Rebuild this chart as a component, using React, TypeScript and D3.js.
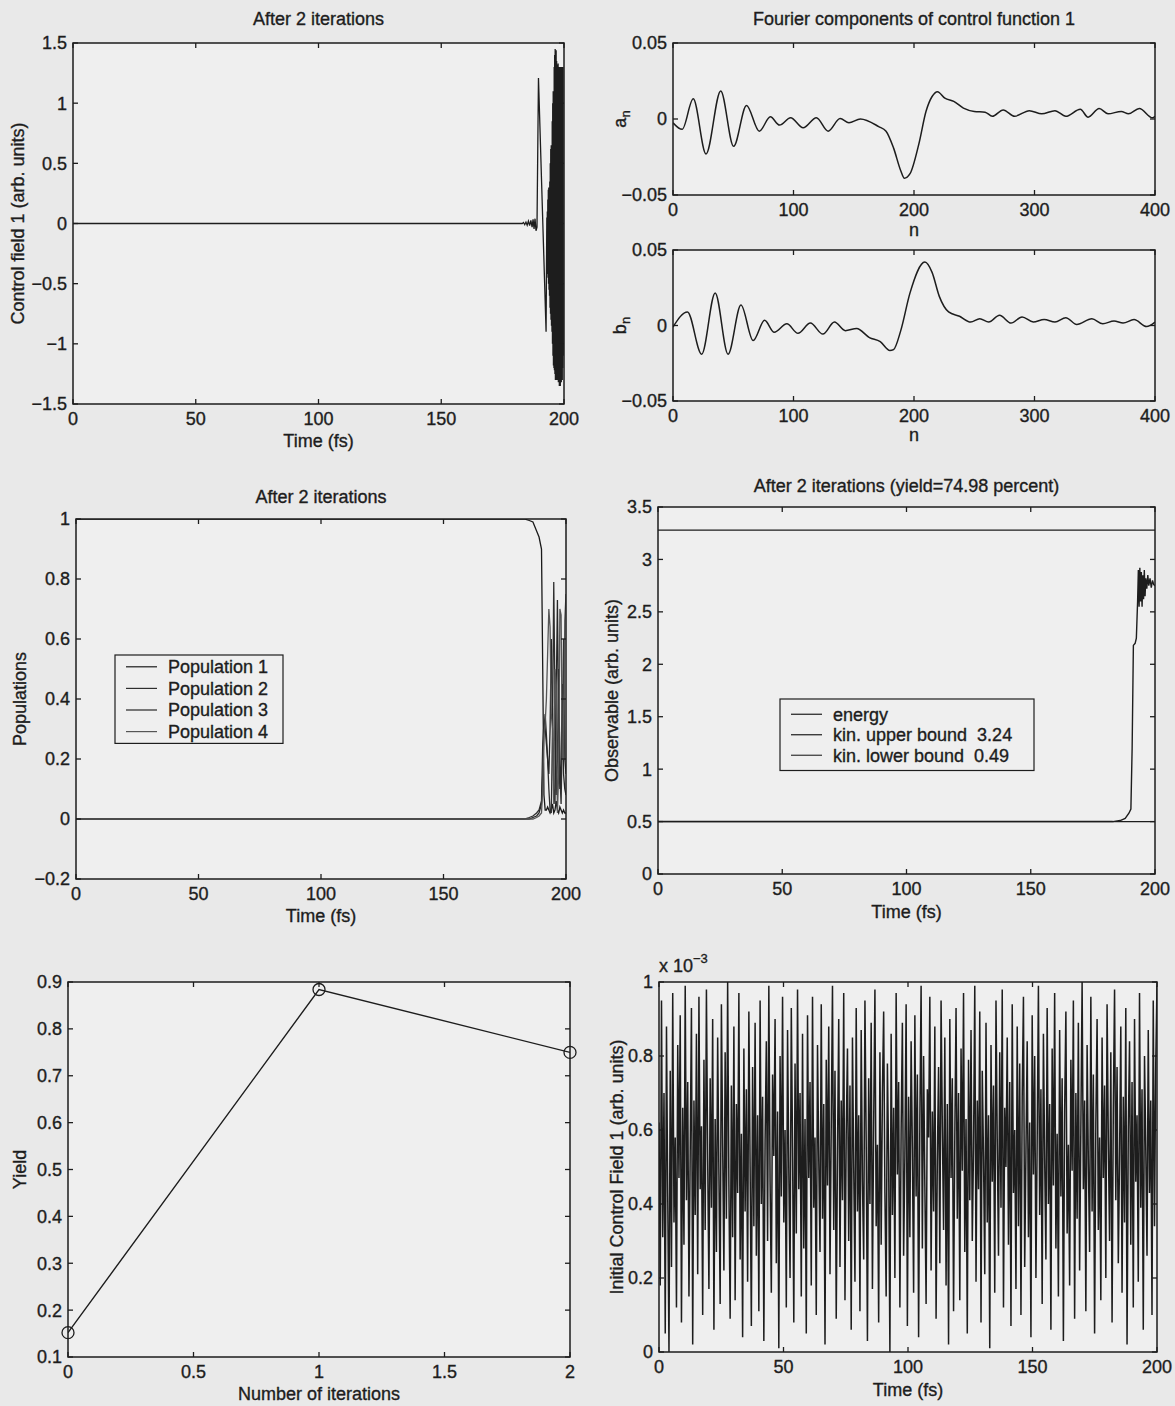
import React from 'react'
import * as d3 from 'd3'

const FONT = '"Liberation Sans", Arial, Helvetica, sans-serif'
const INK = '#1d1d1d'
const PAPER = '#e9e9e9'
const PLOT_BG = '#efefef'

// ---------- data ----------

const timeTicks = [0, 50, 100, 150, 200]

// control field 1 after 2 iterations: flat, small wiggle, spike, then a burst
const field1Time = [0, 183, 183.5, 184, 184.5, 185, 185.5, 186, 186.5, 187, 187.4, 187.8, 188.2, 188.6, 189.0, 189.6, 192.7]
const field1Value = [0, 0, 0.008, -0.01, 0.012, -0.015, 0.02, -0.018, 0.025, -0.03, 0.035, -0.045, 0.04, -0.06, -0.03, 1.21, -0.9]
const burstStart = 193.0
const burstStep = 0.1
const field1Burst = [
  0.05, -0.4, 0.1, -0.42, 0.2, -0.45, 0.28, -0.5, 0.3, -0.55,
  0.25, -0.6, 0.35, -0.7, 0.5, -0.75, 0.62, -0.8, 0.65, -0.85,
  0.6, -0.9, 0.85, -1.0, 1.0, -1.1, 1.1, -1.18, 1.05, -1.2,
  1.3, -1.22, 1.4, -1.25, 1.45, -1.3, 1.38, -1.28, 1.44, -1.3,
  1.35, -1.25, 1.32, -1.3, 1.3, -1.28, 1.33, -1.32, 1.28, -1.3,
  1.3, -1.35, 1.27, -1.33, 1.3, -1.35, 1.25, -1.3, 1.3, -1.32,
  1.28, -1.25, 1.3, -1.3, 1.25, -1.2, 1.3, -1.1,
]

// Fourier components
const nTicks = [0, 100, 200, 300, 400]
const aN = [0, 7.6, 16.8, 27.4, 39.6, 50.3, 61, 71.6, 80.8, 88.4, 97.6, 108, 119, 128.7, 138.7, 146, 155.5, 170.7, 176.8, 183, 189, 192, 196.7, 204, 210, 215, 219.5, 225.6, 233, 241, 250, 259, 265, 274, 283.5, 295.7, 306, 317, 326, 338, 344.5, 353.7, 361, 372, 378, 387, 398, 400]
const aValue = [-0.0025, -0.0068, 0.0133, -0.023, 0.0185, -0.018, 0.0089, -0.008, 0.0014, -0.004, 0.0008, -0.0058, 0.0008, -0.008, 0.0003, -0.0025, 0, -0.005, -0.008, -0.019, -0.034, -0.039, -0.036, -0.0165, 0.0051, 0.0148, 0.018, 0.0137, 0.0116, 0.0072, 0.005, 0.0045, 0.0018, 0.006, 0.0018, 0.0055, 0.0034, 0.0055, 0.0018, 0.0064, 0.0012, 0.0069, 0.0034, 0.005, 0.0034, 0.0069, 0.0008, 0.0018]
const bN = [0, 12, 23.8, 35, 45.7, 56.4, 66.5, 76, 84, 94.5, 103.7, 114, 124.4, 134, 143, 152.4, 163, 172, 180, 183, 189, 196.7, 209, 215, 221, 228.7, 237.8, 247, 254.6, 262, 271, 280.5, 289.7, 299, 308, 317, 326, 335, 347.6, 356.7, 366, 373.5, 382.6, 393, 400]
const bValue = [-0.001, 0.009, -0.019, 0.0216, -0.019, 0.0136, -0.01, 0.0034, -0.0045, 0.0011, -0.0052, 0.0016, -0.0057, 0.0023, -0.0034, -0.002, -0.008, -0.0107, -0.0166, -0.016, -0.0034, 0.0216, 0.042, 0.0352, 0.0193, 0.009, 0.0061, 0.0023, 0.0045, 0.0023, 0.0068, 0.0016, 0.0057, 0.0023, 0.0039, 0.0023, 0.0052, 0.0007, 0.0045, 0.0011, 0.003, 0.0016, 0.0039, -0.0007, 0.0023]
const fourierTicks = [-0.05, 0, 0.05]

// populations
const popTime = [0, 183, 185, 186.5, 188, 189, 190, 190.5, 191, 191.5, 192, 192.5, 193, 193.5, 194, 194.5, 195, 195.5, 196, 196.5, 197, 197.5, 198, 198.5, 199, 199.5, 200]
const pop1 = [1, 1, 0.995, 0.99, 0.96, 0.94, 0.9, 0.5, 0.08, 0.03, 0.03, 0.04, 0.03, 0.02, 0.03, 0.05, 0.02, 0.03, 0.06, 0.03, 0.02, 0.04, 0.03, 0.02, 0.03, 0.02, 0.02]
const pop2 = [0, 0, 0.005, 0.01, 0.02, 0.03, 0.06, 0.25, 0.32, 0.3, 0.25, 0.2, 0.1, 0.03, 0.02, 0.3, 0.79, 0.4, 0.08, 0.2, 0.5, 0.15, 0.05, 0.3, 0.6, 0.2, 0.15]
const pop3 = [0, 0, 0, 0.005, 0.01, 0.02, 0.05, 0.15, 0.3, 0.35, 0.28, 0.2, 0.15, 0.3, 0.6, 0.35, 0.1, 0.05, 0.4, 0.73, 0.3, 0.1, 0.2, 0.45, 0.15, 0.1, 0.08]
const pop4 = [0, 0, 0, 0, 0.005, 0.01, 0.02, 0.1, 0.28, 0.32, 0.4, 0.55, 0.7, 0.64, 0.35, 0.3, 0.05, 0.5, 0.45, 0.02, 0.15, 0.7, 0.68, 0.2, 0.2, 0.66, 0.75]
const popNames = ['Population 1', 'Population 2', 'Population 3', 'Population 4']
const popColors = ['#1a1a1a', '#2e2e2e', '#262626', '#555555']
const popTicks = [-0.2, 0, 0.2, 0.4, 0.6, 0.8, 1]

// observable
const energyTime = [0, 183, 186, 188, 189.5, 190.3, 190.8, 191.3, 192.0, 192.5, 193.0, 193.3, 193.6, 193.9, 194.2, 194.5, 194.8, 195.1, 195.4, 195.7, 196.0, 196.3, 196.7, 197.1, 197.5, 198.0, 198.5, 199.0, 199.5, 200]
const energyValue = [0.5, 0.5, 0.51, 0.53, 0.58, 0.62, 1.2, 2.18, 2.2, 2.25, 2.6, 2.9, 2.55, 2.92, 2.6, 2.88, 2.55, 2.85, 2.62, 2.9, 2.65, 2.82, 2.72, 2.85, 2.75, 2.82, 2.73, 2.8, 2.76, 2.75]
const upperBound = 3.28
const lowerBound = 0.5
const obsLegend = ['energy', 'kin. upper bound  3.24', 'kin. lower bound  0.49']
const obsTicks = [0, 0.5, 1, 1.5, 2, 2.5, 3, 3.5]

// yield vs iterations
const iterations = [0, 1, 2]
const yieldValues = [0.152, 0.884, 0.7498]
const iterTicks = [0, 0.5, 1, 1.5, 2]
const yieldTicks = [0.1, 0.2, 0.3, 0.4, 0.5, 0.6, 0.7, 0.8, 0.9]

// initial control field (units of 1e-3)
const initialField = [
  0.62, 0.18, 0.95, 0.31, 0.70, 0.05, 0.88, 0.42, 0.00, 0.76, 0.23, 0.97, 0.35, 0.58, 0.12, 0.83, 0.47, 0.91, 0.08, 0.66,
  0.29, 0.99, 0.41, 0.73, 0.15, 0.54, 0.93, 0.02, 0.68, 0.37, 0.86, 0.21, 0.96, 0.44, 0.61, 0.10, 0.79, 0.33, 0.98, 0.52,
  0.17, 0.74, 0.39, 0.90, 0.06, 0.63, 0.27, 0.85, 0.48, 0.13, 0.94, 0.56, 0.22, 0.81, 0.36, 1.00, 0.45, 0.09, 0.72, 0.31,
  0.88, 0.14, 0.67, 0.43, 0.97, 0.25, 0.59, 0.04, 0.82, 0.38, 0.71, 0.19, 0.92, 0.50, 0.07, 0.77, 0.34, 0.89, 0.26, 0.64,
  0.11, 0.95, 0.40, 0.69, 0.03, 0.57, 0.84, 0.30, 0.99, 0.46, 0.16, 0.75, 0.53, 0.90, 0.24, 0.65, 0.01, 0.80, 0.42, 0.96,
  0.35, 0.60, 0.12, 0.87, 0.49, 0.20, 0.93, 0.55, 0.08, 0.78, 0.32, 0.98, 0.44, 0.70, 0.15, 0.86, 0.28, 0.63, 0.05, 0.91,
  0.47, 0.73, 0.18, 0.96, 0.39, 0.58, 0.10, 0.83, 0.52, 0.27, 0.94, 0.36, 0.67, 0.02, 0.79, 0.45, 0.88, 0.21, 0.61, 0.99,
  0.33, 0.76, 0.09, 0.54, 0.90, 0.23, 0.68, 0.41, 0.97, 0.14, 0.59, 0.82, 0.30, 0.72, 0.06, 0.85, 0.50, 0.19, 0.93, 0.38,
  0.64, 0.11, 0.87, 0.46, 0.25, 0.95, 0.57, 0.03, 0.74, 0.40, 0.89, 0.17, 0.62, 0.98, 0.34, 0.56, 0.08, 0.81, 0.29, 0.70,
  0.92, 0.43, 0.15, 0.78, 0.51, 0.00, 0.86, 0.37, 0.66, 0.20, 0.97, 0.48, 0.73, 0.12, 0.60, 0.89, 0.26, 0.53, 0.94, 0.07,
  0.69, 0.31, 0.84, 0.55, 0.16, 0.91, 0.42, 0.75, 0.04, 0.63, 0.99, 0.28, 0.80, 0.45, 0.13, 0.71, 0.58, 0.96, 0.22, 0.65,
  0.38, 0.88, 0.09, 0.52, 0.77, 0.24, 0.95, 0.61, 0.33, 0.85, 0.18, 0.67, 0.02, 0.90, 0.47, 0.74, 0.11, 0.58, 0.93, 0.36,
  0.70, 0.14, 0.82, 0.49, 0.97, 0.27, 0.63, 0.05, 0.79, 0.41, 0.87, 0.30, 0.55, 0.99, 0.19, 0.68, 0.44, 0.92, 0.08, 0.76,
  0.53, 0.21, 0.89, 0.35, 0.64, 0.01, 0.83, 0.46, 0.72, 0.16, 0.95, 0.57, 0.26, 0.81, 0.39, 0.98, 0.12, 0.66, 0.50, 0.85,
  0.29, 0.73, 0.07, 0.94, 0.43, 0.60, 0.17, 0.88, 0.34, 0.78, 0.10, 0.69, 0.96, 0.23, 0.54, 0.84, 0.31, 0.62, 0.04, 0.91,
  0.48, 0.80, 0.20, 0.57, 0.99, 0.37, 0.71, 0.13, 0.86, 0.52, 0.25, 0.93, 0.40, 0.67, 0.06, 0.82, 0.45, 0.97, 0.28, 0.59,
  0.15, 0.87, 0.42, 0.74, 0.03, 0.65, 0.92, 0.32, 0.56, 0.18, 0.79, 0.49, 0.95, 0.09, 0.70, 0.36, 0.89, 0.22, 0.61, 1.00,
  0.44, 0.68, 0.11, 0.83, 0.51, 0.27, 0.96, 0.38, 0.75, 0.05, 0.62, 0.90, 0.33, 0.58, 0.14, 0.85, 0.47, 0.72, 0.20, 0.94,
  0.57, 0.30, 0.81, 0.08, 0.66, 0.98, 0.41, 0.77, 0.24, 0.53, 0.88, 0.16, 0.69, 0.35, 0.93, 0.02, 0.60, 0.84, 0.29, 0.73,
  0.12, 0.90, 0.46, 0.64, 0.19, 0.97, 0.39, 0.71, 0.06, 0.80, 0.55, 0.26, 0.87, 0.43, 0.68, 0.10, 0.95, 0.34, 0.78, 0.99,
]
const initTicks = [0, 0.2, 0.4, 0.6, 0.8, 1]

// ---------- helpers ----------

const FS = 18 // text size everywhere in the scan

function fmt(d: number) {
  const s = String(+d.toFixed(4))
  return d < 0 ? '\u2212' + s.slice(1) : s
}

type FrameProps = {
  id: string
  x: d3.ScaleLinear<number, number>
  y: d3.ScaleLinear<number, number>
  xTicks: number[]
  yTicks: number[]
  title?: string
  titleGap?: number
  xLabel?: string
  xLabelGap?: number
  yLabel?: React.ReactNode
  yLabelX: number
  children?: React.ReactNode
}

function Frame({ id, x, y, xTicks, yTicks, title, titleGap = 18, xLabel, xLabelGap = 43, yLabel, yLabelX, children }: FrameProps) {
  const [left, right] = x.range()
  const [bottom, top] = y.range()
  const tick = 5
  return (
    <g>
      <rect x={left} y={top} width={right - left} height={bottom - top} fill={PLOT_BG} />
      <clipPath id={id}>
        <rect x={left} y={top} width={right - left} height={bottom - top} />
      </clipPath>
      <g clipPath={`url(#${id})`}>{children}</g>
      <rect x={left} y={top} width={right - left} height={bottom - top} fill="none" stroke={INK} strokeWidth={1.5} />
      {xTicks.map(t => (
        <g key={'x' + t}>
          <line x1={x(t)} x2={x(t)} y1={bottom} y2={bottom - tick} stroke={INK} strokeWidth={1.3} />
          <line x1={x(t)} x2={x(t)} y1={top} y2={top + tick} stroke={INK} strokeWidth={1.3} />
          <text x={x(t)} y={bottom + 21} textAnchor="middle" fontSize={FS}>{fmt(t)}</text>
        </g>
      ))}
      {yTicks.map(t => (
        <g key={'y' + t}>
          <line x1={left} x2={left + tick} y1={y(t)} y2={y(t)} stroke={INK} strokeWidth={1.3} />
          <line x1={right} x2={right - tick} y1={y(t)} y2={y(t)} stroke={INK} strokeWidth={1.3} />
          <text x={left - 6} y={y(t)} dy="0.36em" textAnchor="end" fontSize={FS}>{fmt(t)}</text>
        </g>
      ))}
      {title && (
        <text x={(left + right) / 2} y={top - titleGap} textAnchor="middle" fontSize={FS}>{title}</text>
      )}
      {xLabel && (
        <text x={(left + right) / 2} y={bottom + xLabelGap} textAnchor="middle" fontSize={FS}>{xLabel}</text>
      )}
      {yLabel && (
        <text
          transform={`translate(${yLabelX},${(top + bottom) / 2}) rotate(-90)`}
          textAnchor="middle"
          dy="0.36em"
          fontSize={FS}
        >
          {yLabel}
        </text>
      )}
    </g>
  )
}

type LegendProps = { x: number; y: number; w: number; rowH: number; pad: number; names: string[]; colors: string[] }

function Legend({ x, y, w, rowH, pad, names, colors }: LegendProps) {
  const h = rowH * names.length + pad * 2
  return (
    <g>
      <rect x={x} y={y} width={w} height={h} fill={PLOT_BG} stroke={INK} strokeWidth={1.2} />
      {names.map((n, i) => {
        const cy = y + pad + rowH * (i + 0.5)
        return (
          <g key={n}>
            <line x1={x + 11} x2={x + 42} y1={cy} y2={cy} stroke={colors[i]} strokeWidth={1.2} />
            <text x={x + 53} y={cy} dy="0.36em" fontSize={FS} style={{ whiteSpace: 'pre' }}>{n}</text>
          </g>
        )
      })}
    </g>
  )
}

function path(xs: number[], ys: number[], x: d3.ScaleLinear<number, number>, y: d3.ScaleLinear<number, number>, curve: d3.CurveFactory = d3.curveLinear) {
  return d3.line<number>().x((_, i) => x(xs[i])).y(d => y(d)).curve(curve)(ys) || ''
}

export default function App() {
  // panel 1: control field
  const x1 = d3.scaleLinear().domain([0, 200]).range([73, 564])
  const y1 = d3.scaleLinear().domain([-1.5, 1.5]).range([404, 43])
  const burstTime = field1Burst.map((_, i) => burstStart + i * burstStep)
  const fieldT = field1Time.concat(burstTime)
  const fieldV = field1Value.concat(field1Burst)

  // panel 2: fourier components
  const xa = d3.scaleLinear().domain([0, 400]).range([673, 1155])
  const ya = d3.scaleLinear().domain([-0.05, 0.05]).range([195, 43])
  const yb = d3.scaleLinear().domain([-0.05, 0.05]).range([401, 250])

  // panel 3: populations
  const x3 = d3.scaleLinear().domain([0, 200]).range([76, 566])
  const y3 = d3.scaleLinear().domain([-0.2, 1]).range([879, 519])
  const pops = [pop1, pop2, pop3, pop4]

  // panel 4: observable
  const x4 = d3.scaleLinear().domain([0, 200]).range([658, 1155])
  const y4 = d3.scaleLinear().domain([0, 3.5]).range([874, 507])

  // panel 5: yield
  const x5 = d3.scaleLinear().domain([0, 2]).range([68, 570])
  const y5 = d3.scaleLinear().domain([0.1, 0.9]).range([1357, 982])

  // panel 6: initial field
  const x6 = d3.scaleLinear().domain([0, 200]).range([659, 1157])
  const y6 = d3.scaleLinear().domain([0, 1]).range([1352, 982])
  const initTime = initialField.map((_, i) => (i * 200) / (initialField.length - 1))

  return (
    <svg
      width={1175}
      height={1406}
      style={{ position: 'absolute', left: 0, top: 0, background: PAPER }}
      fontFamily={FONT}
      fill={INK}
    >
      <style>{`text { stroke: ${INK}; stroke-width: 0.35px; }`}</style>
      <rect x={0} y={0} width={1175} height={1406} fill={PAPER} />

      <Frame id="c1" x={x1} y={y1} xTicks={timeTicks} yTicks={[-1.5, -1, -0.5, 0, 0.5, 1, 1.5]}
        title="After 2 iterations" xLabel="Time (fs)" yLabel="Control field 1 (arb. units)" yLabelX={18}>
        <path d={path(fieldT, fieldV, x1, y1)} fill="none" stroke={INK} strokeWidth={1.3} />
      </Frame>

      <Frame id="c2a" x={xa} y={ya} xTicks={nTicks} yTicks={fourierTicks}
        title="Fourier components of control function 1" xLabel="n" xLabelGap={41}
        yLabel={<>a<tspan dy={4} fontSize={13}>n</tspan></>} yLabelX={620}>
        <path d={path(aN, aValue, xa, ya, d3.curveMonotoneX)} fill="none" stroke={INK} strokeWidth={1.5} />
      </Frame>
      <Frame id="c2b" x={xa} y={yb} xTicks={nTicks} yTicks={fourierTicks} xLabel="n" xLabelGap={40}
        yLabel={<>b<tspan dy={4} fontSize={13}>n</tspan></>} yLabelX={620}>
        <path d={path(bN, bValue, xa, yb, d3.curveMonotoneX)} fill="none" stroke={INK} strokeWidth={1.5} />
      </Frame>

      <Frame id="c3" x={x3} y={y3} xTicks={timeTicks} yTicks={popTicks}
        title="After 2 iterations" titleGap={16} xLabel="Time (fs)" yLabel="Populations" yLabelX={20}>
        {pops.map((p, i) => (
          <path key={i} d={path(popTime, p, x3, y3)} fill="none" stroke={popColors[i]} strokeWidth={1.3} />
        ))}
      </Frame>
      <Legend x={115} y={655} w={168} rowH={21.6} pad={1} names={popNames} colors={popColors} />

      <Frame id="c4" x={x4} y={y4} xTicks={timeTicks} yTicks={obsTicks}
        title="After 2 iterations (yield=74.98 percent)" titleGap={15} xLabel="Time (fs)" xLabelGap={44}
        yLabel="Observable (arb. units)" yLabelX={612}>
        <line x1={x4(0)} x2={x4(200)} y1={y4(upperBound)} y2={y4(upperBound)} stroke={INK} strokeWidth={1.3} />
        <line x1={x4(0)} x2={x4(200)} y1={y4(lowerBound)} y2={y4(lowerBound)} stroke={INK} strokeWidth={1.3} />
        <path d={path(energyTime, energyValue, x4, y4)} fill="none" stroke={INK} strokeWidth={1.4} />
      </Frame>
      <Legend x={780} y={699} w={254} rowH={20.5} pad={5} names={obsLegend} colors={[INK, INK, '#333']} />

      <Frame id="c5" x={x5} y={y5} xTicks={iterTicks} yTicks={yieldTicks}
        xLabel="Number of iterations" yLabel="Yield" yLabelX={20}>
        <path d={path(iterations, yieldValues, x5, y5)} fill="none" stroke={INK} strokeWidth={1.4} />
      </Frame>
      {iterations.map((it, i) => (
        <circle key={it} cx={x5(it)} cy={y5(yieldValues[i])} r={6} fill="none" stroke={INK} strokeWidth={1.3} />
      ))}

      <Frame id="c6" x={x6} y={y6} xTicks={timeTicks} yTicks={initTicks}
        xLabel="Time (fs)" xLabelGap={44} yLabel="Initial Control Field 1 (arb. units)" yLabelX={617}>
        <path d={path(initTime, initialField, x6, y6)} fill="none" stroke={INK} strokeWidth={1.5} />
      </Frame>
      <text x={659} y={972} fontSize={FS}>
        x 10<tspan dy={-9} fontSize={13}>{'\u22123'}</tspan>
      </text>
    </svg>
  )
}
